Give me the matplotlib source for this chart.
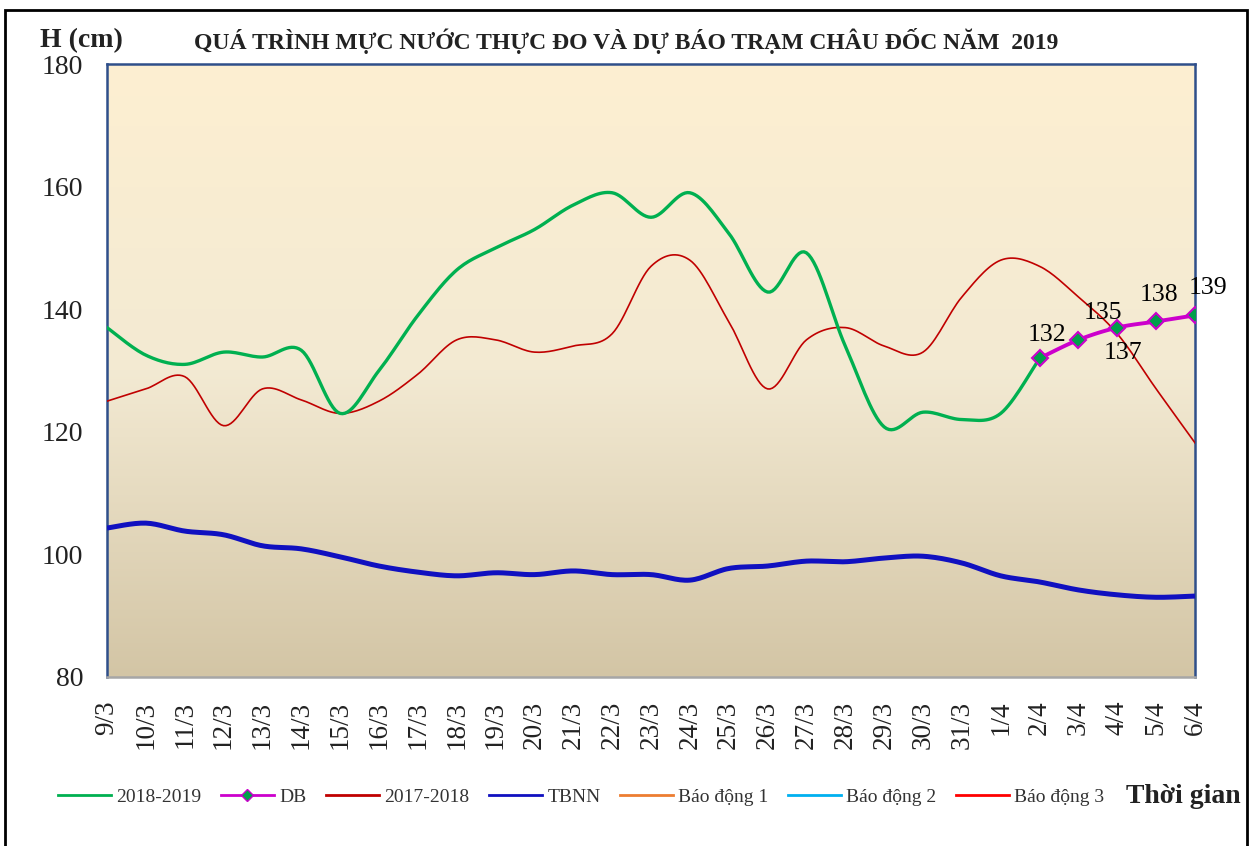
import matplotlib
matplotlib.use('Agg')
import matplotlib.pyplot as plt
import matplotlib.patches as mpatches
from matplotlib.lines import Line2D
from matplotlib.colors import LinearSegmentedColormap
import numpy as np

plt.rcParams['font.family'] = ['Liberation Serif', 'DejaVu Serif']

# categories (ngay)
dates = ['9/3', '10/3', '11/3', '12/3', '13/3', '14/3', '15/3', '16/3', '17/3',
         '18/3', '19/3', '20/3', '21/3', '22/3', '23/3', '24/3', '25/3', '26/3',
         '27/3', '28/3', '29/3', '30/3', '31/3', '1/4', '2/4', '3/4', '4/4',
         '5/4', '6/4']

# 2018-2019 thuc do (den 2/4)
h2019 = [137, 132.5, 131, 133, 132.2, 133.3, 123, 130, 139, 146.4, 150, 153,
         157, 159, 155, 159, 152.4, 142.8, 149.2, 134, 120.8, 123.2, 122, 123, 132]

# du bao (2/4 -> 6/4)
db_dates = ['2/4', '3/4', '4/4', '5/4', '6/4']
db_vals = [132, 135, 137, 138, 139]

# 2017-2018
h2018 = [125, 127, 129, 121, 127, 125.2, 123, 125, 129.4, 135, 135, 133, 134,
         136, 147, 148, 138, 127, 135, 137, 134, 133, 142, 148, 147, 142, 136,
         127, 118.2]

# TBNN
tbnn = [104.3, 105.1, 103.8, 103.2, 101.4, 100.9, 99.6, 98.1, 97.1, 96.5, 97,
        96.7, 97.3, 96.7, 96.7, 95.8, 97.7, 98.1, 98.9, 98.8, 99.4, 99.7, 98.6,
        96.5, 95.5, 94.2, 93.4, 93, 93.2]


def smooth(y, n=16):
    # Catmull-Rom giong duong cong Excel
    y = np.asarray(y, dtype=float)
    x = np.arange(len(y), dtype=float)
    xp = np.concatenate([[x[0]], x, [x[-1]]])
    yp = np.concatenate([[y[0]], y, [y[-1]]])
    xs, ys = [], []
    t = np.linspace(0, 1, n, endpoint=False)
    for i in range(1, len(xp) - 2):
        p0, p1, p2, p3 = yp[i-1], yp[i], yp[i+1], yp[i+2]
        q0, q1, q2, q3 = xp[i-1], xp[i], xp[i+1], xp[i+2]
        b1 = p1 + (p2 - p0) / 6.0
        b2 = p2 - (p3 - p1) / 6.0
        c1 = q1 + (q2 - q0) / 6.0
        c2 = q2 - (q3 - q1) / 6.0
        ys.append((1-t)**3*p1 + 3*(1-t)**2*t*b1 + 3*(1-t)*t**2*b2 + t**3*p2)
        xs.append((1-t)**3*q1 + 3*(1-t)**2*t*c1 + 3*(1-t)*t**2*c2 + t**3*q2)
    xs.append([x[-1]])
    ys.append([y[-1]])
    return np.concatenate(xs), np.concatenate(ys)


fig = plt.figure(figsize=(12.53, 8.46), dpi=100)
ax = fig.add_axes([0.0854, 0.1998, 0.8683, 0.7245])

# nen gradient
cmap = LinearSegmentedColormap.from_list('bg', ['#D3C5A5', '#F3EAD3', '#FDEFD1'])
grad = np.linspace(0, 1, 256).reshape(-1, 1)
ax.imshow(grad, extent=[0, len(dates) - 1, 80, 180], origin='lower',
          aspect='auto', cmap=cmap, zorder=0)

xi = np.arange(len(dates))

sx, sy = smooth(tbnn)
ax.plot(sx, sy, color='#1010C0', lw=3.6, zorder=3, solid_capstyle='butt')
sx, sy = smooth(h2018)
ax.plot(sx, sy, color='#C00000', lw=1.2, zorder=4)
sx, sy = smooth(h2019)
ax.plot(sx, sy, color='#00B050', lw=2.4, zorder=5)

db_x = [dates.index(d) for d in db_dates]
sx, sy = smooth(db_vals)
ax.plot(np.array(sx) + db_x[0], sy, color='#CC00CC', lw=2.8, zorder=6)
ax.plot(db_x, db_vals, ls='none', marker='D', ms=8, mfc='#00A04A',
        mec='#CC00CC', mew=1.5, zorder=7)

# nhan so lieu du bao
lbl_off = [(5, 17), (18, 19), (4, -18), (2, 19), (9, 20)]
for xv, yv, off in zip(db_x, db_vals, lbl_off):
    ax.annotate(str(yv), (xv, yv), xytext=off, textcoords='offset points',
                ha='center', va='center', fontsize=18.5, zorder=8)

ax.set_xlim(0, len(dates) - 1)
ax.set_ylim(80, 180)
ax.set_yticks(np.arange(80, 181, 20))
ax.set_xticks(xi)
ax.set_xticklabels(dates, rotation=90, fontsize=19.5)
ax.tick_params(axis='y', length=0, pad=17, labelsize=20)
ax.tick_params(axis='x', length=0, pad=17)
for t in ax.get_xticklabels() + ax.get_yticklabels():
    t.set_color('#222222')

for s in ['left', 'right', 'top']:
    ax.spines[s].set_color('#2F4F8A')
    ax.spines[s].set_linewidth(1.8)
ax.spines['bottom'].set_color('#A6A6A6')
ax.spines['bottom'].set_linewidth(1.8)

fig.text(0.032, 0.952, 'H (cm)', fontsize=20, fontweight='bold',
         ha='left', va='center', color='#222222')
fig.text(0.5, 0.951, 'QUÁ TRÌNH MỰC NƯỚC THỰC ĐO VÀ DỰ BÁO TRẠM CHÂU ĐỐC NĂM  2019',
         fontsize=17, fontweight='bold', ha='center', va='center', color='#222222')

handles = [
    Line2D([], [], color='#00B050', lw=2),
    Line2D([], [], color='#CC00CC', lw=2, marker='D', ms=6, mfc='#00A04A', mec='#CC00CC'),
    Line2D([], [], color='#C00000', lw=2),
    Line2D([], [], color='#1010C0', lw=2),
    Line2D([], [], color='#ED7D31', lw=2),
    Line2D([], [], color='#00B0F0', lw=2),
    Line2D([], [], color='#FF0000', lw=2),
]
labels = ['2018-2019', 'DB', '2017-2018', 'TBNN', 'Báo động 1', 'Báo động 2', 'Báo động 3']
leg = fig.legend(handles, labels, loc='center', bbox_to_anchor=(0.464, 0.058),
                 ncol=7, frameon=False, fontsize=14, handlelength=2.7,
                 handletextpad=0.3, columnspacing=1.0)
for t in leg.get_texts():
    t.set_color('#333333')

fig.text(0.944, 0.058, 'Thời gian', fontsize=20, fontweight='bold',
         ha='center', va='center', color='#222222')

# khung ngoai
fig.patches.append(mpatches.Rectangle((0.004, -0.05), 0.991, 1.038,
                                      transform=fig.transFigure, fill=False,
                                      ec='black', lw=2))

plt.savefig('out.png', dpi=100)
